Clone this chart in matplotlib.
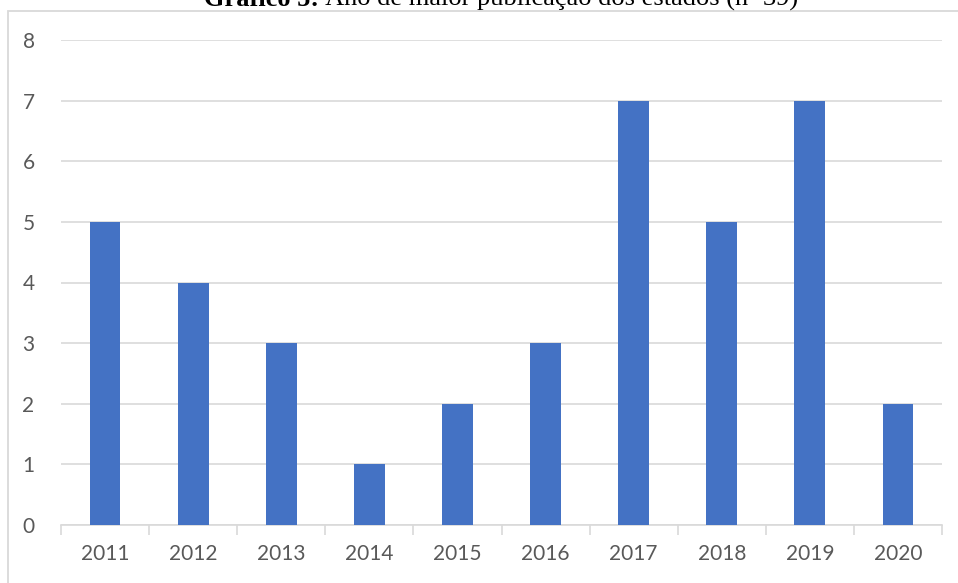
import matplotlib
matplotlib.use("Agg")
import matplotlib.pyplot as plt
from matplotlib.patches import Rectangle

# data
years = ["2011", "2012", "2013", "2014", "2015", "2016", "2017", "2018", "2019", "2020"]
counts = [5, 4, 3, 1, 2, 3, 7, 5, 7, 2]
y_ticks = [0, 1, 2, 3, 4, 5, 6, 7, 8]

BAR = "#4472C4"
GRID = "#D9D9D9"
TXT = "#595959"

plt.rcParams["font.family"] = ["Lato", "DejaVu Sans"]

W, H = 958, 583
fig = plt.figure(figsize=(W / 100, H / 100), dpi=100)
fig.patch.set_facecolor("white")

# outer chart border (top edge sits just under the cut-off title)
fig.patches.append(Rectangle((8 / W, -0.05), 1.05 - 8 / W, 1 - 10.5 / H + 0.05,
                             transform=fig.transFigure, fill=False,
                             edgecolor=GRID, linewidth=1.3))

ax = fig.add_axes([61 / W, 58 / H, 881 / W, 485 / H])
x = list(range(len(years)))
ax.bar(x, counts, width=0.35, color=BAR, edgecolor="none", zorder=3)

ax.set_xlim(-0.5, len(years) - 0.5)
ax.set_ylim(0, 8)
ax.set_yticks(y_ticks)
ax.set_xticks(x)
ax.set_xticklabels(years)
ax.yaxis.grid(True, color=GRID, linewidth=1.2, zorder=0)
ax.set_axisbelow(True)

for s in ["top", "right", "left"]:
    ax.spines[s].set_visible(False)
ax.spines["bottom"].set_color(GRID)
ax.spines["bottom"].set_linewidth(1.2)

ax.tick_params(axis="y", length=0, pad=19, labelsize=15, labelcolor=TXT)
ax.tick_params(axis="x", length=0, pad=14, labelsize=15, labelcolor=TXT)

# category boundary tick marks on the bottom axis
ax.set_xticks([i - 0.5 for i in range(len(years) + 1)], minor=True)
ax.tick_params(axis="x", which="minor", length=7, width=1.2, color=GRID)

# title, partly cut off at the top of the image
fig.canvas.draw()
r = fig.canvas.get_renderer()
ty = 1 - 6 / H
t1 = fig.text(0, ty, "Gráfico 5:", fontfamily="Liberation Serif", fontweight="bold",
              fontsize=19, va="baseline", ha="left", color="black")
t2 = fig.text(0, ty, " Ano de maior publicação dos estados (n=39)",
              fontfamily="Liberation Serif", fontsize=19, va="baseline", ha="left", color="black")
w1 = t1.get_window_extent(r).width
w2 = t2.get_window_extent(r).width
x0 = (501 - (w1 + w2) / 2) / W
t1.set_x(x0)
t2.set_x(x0 + w1 / W)

fig.savefig("out.png", dpi=100, facecolor="white")
